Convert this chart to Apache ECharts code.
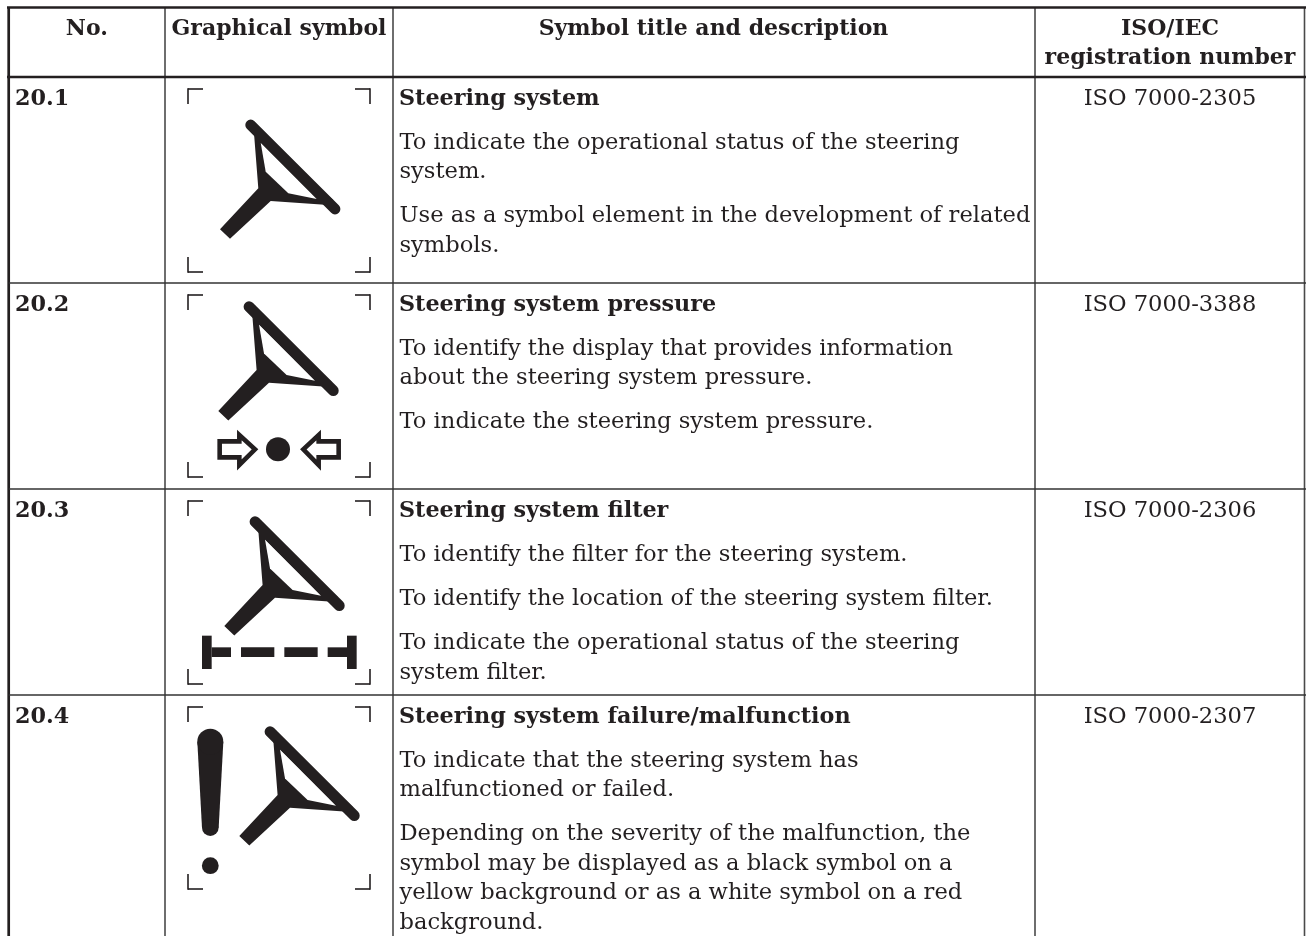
<!DOCTYPE html>
<html><head><meta charset="utf-8">
<style>html,body{margin:0;padding:0;background:#fff}#c{width:1306px;height:936px}</style>
<script src="https://cdn.jsdelivr.net/npm/echarts@6/dist/echarts.min.js"></script>
</head><body><div id="c"></div>
<script>
// ---- table content ----
const headers = ['No.', 'Graphical symbol', 'Symbol title and description', ['ISO/IEC', 'registration number']];
const numbers = ['20.1', '20.2', '20.3', '20.4'];
const titles = ['Steering system', 'Steering system pressure', 'Steering system filter', 'Steering system failure/malfunction'];
const descriptions = [
  [['To indicate the operational status of the steering', 'system.'],
   ['Use as a symbol element in the development of related', 'symbols.']],
  [['To identify the display that provides information', 'about the steering system pressure.'],
   ['To indicate the steering system pressure.']],
  [['To identify the filter for the steering system.'],
   ['To identify the location of the steering system filter.'],
   ['To indicate the operational status of the steering', 'system filter.']],
  [['To indicate that the steering system has', 'malfunctioned or failed.'],
   ['Depending on the severity of the malfunction, the', 'symbol may be displayed as a black symbol on a', 'yellow background or as a white symbol on a red', 'background.']]
];
const registrations = ['ISO 7000-2305', 'ISO 7000-3388', 'ISO 7000-2306', 'ISO 7000-2307'];

// ---- table layout ----
const columnEdges = [8.7, 165, 393, 1035, 1304.5];
const rowEdges = [7.5, 77, 283, 489, 695, 936];
const INK = '#231f20';
const SERIF = '"DejaVu Serif",serif';
const BODY = 22.6, BOLD = 22.3, HEAD = 22;

// glyph outlines, local units
const cropBoxes = [[188, 89, 370, 272], [188, 295, 370, 477], [188, 501, 370, 684], [188, 707, 370, 889]];
const wheelOrigins = [[250.7, 125], [249, 306.7], [255, 521.7], [270, 731.7]];
const wheelBody = [[3.3, 8.3], [7.6, 63.3], [-30.7, 104.3], [-20.7, 113.7], [20, 76], [77.6, 80], [82.6, 75]];
const wheelHole = [[10, 17.7], [15, 46.7], [37.6, 68.3], [66, 74]];
const wheelRim = [[0, 0], [84.3, 84]];

function build(params, api) {
  const P = (x, y) => api.coord([x, y]);
  const kids = [];
  const line = (x1, y1, x2, y2, w, c, cap) => {
    const a = P(x1, y1), b = P(x2, y2);
    kids.push({type: 'line', shape: {x1: a[0], y1: a[1], x2: b[0], y2: b[1]},
      style: {stroke: c || INK, lineWidth: w, lineCap: cap || 'butt', fill: null}});
  };
  const poly = (pts, ox, oy, fill, stroke, w) => {
    kids.push({type: 'polygon', shape: {points: pts.map(p => P(p[0] + ox, p[1] + oy))},
      style: {fill: fill, stroke: stroke || null, lineWidth: w || 0, lineJoin: 'miter', miterLimit: 8}});
  };
  const disc = (x, y, r) => {
    const c = P(x, y);
    kids.push({type: 'circle', shape: {cx: c[0], cy: c[1], r: r}, style: {fill: INK}});
  };
  const text = (s, x, y, size, bold, align) => {
    const c = P(x, y);
    kids.push({type: 'text', x: c[0], y: c[1], style: {text: s, fill: INK,
      font: (bold ? 'bold ' : '') + size + 'px ' + SERIF,
      textAlign: align || 'left', textVerticalAlign: 'middle'}});
  };

  // rules
  const [x0, x1, x2, x3, x4] = columnEdges;
  [x1, x2, x3, x4].forEach(x => line(x, rowEdges[0], x, rowEdges[5], 1.6, '#4a4a4a'));
  line(x0, rowEdges[0], x0, rowEdges[5], 2.7);
  line(7, rowEdges[0], 1306, rowEdges[0], 2.4);
  line(7, rowEdges[1], 1306, rowEdges[1], 2.4);
  [2, 3, 4].forEach(i => line(x0, rowEdges[i], 1306, rowEdges[i], 1.4, '#333'));

  // header
  text(headers[0], (x0 + x1) / 2, 29.5, HEAD, true, 'center');
  text(headers[1], (x1 + x2) / 2, 29.5, HEAD, true, 'center');
  text(headers[2], 713.5, 29.5, HEAD, true, 'center');
  text(headers[3][0], 1170, 29.5, HEAD, true, 'center');
  text(headers[3][1], 1170, 58.5, HEAD, true, 'center');

  // body rows
  numbers.forEach((n, i) => {
    const top = rowEdges[i + 1];
    const ty = top + 22;
    text(n, 15, ty, BOLD, true);
    text(titles[i], 399, ty, BOLD, true);
    text(registrations[i], 1170, ty, BODY, false, 'center');
    let y = top + 21.5;
    descriptions[i].forEach(par => {
      y += 44.3;
      par.forEach((l, k) => { if (k) y += 29.5; text(l, 399.5, y, BODY, false); });
    });
    // crop marks
    const [l, t, r, b] = cropBoxes[i], arm = 15, w = 1.6;
    line(l, t, l + arm, t, w); line(l, t - .8, l, t + arm, w);
    line(r - arm, t, r, t, w); line(r, t - .8, r, t + arm, w);
    line(l, b, l + arm, b, w); line(l, b + .8, l, b - arm, w);
    line(r - arm, b, r, b, w); line(r, b + .8, r, b - arm, w);
    // steering glyph
    const [ox, oy] = wheelOrigins[i];
    poly(wheelBody, ox, oy, INK);
    poly(wheelHole, ox, oy, '#fff');
    line(ox, oy, ox + wheelRim[1][0], oy + wheelRim[1][1], 10.8, INK, 'round');
  });

  // row 2 arrows and dot
  const z2 = p => [p[0] / 3 + 160, p[1] / 3 + 285];
  const arrowL = [[179, 469], [238, 469], [238, 450], [285, 493], [238, 540], [238, 517], [179, 517]];
  const arrowR = [[536, 469], [476, 469], [476, 450], [430, 493], [476, 540], [476, 517], [536, 517]];
  poly(arrowL.map(z2), 0, 0, '#fff', INK, 4.6);
  poly(arrowR.map(z2), 0, 0, '#fff', INK, 4.6);
  disc(278, 449.3, 12);

  // row 3 filter
  const z3 = (a, b, c, d) => [[a, b], [c, b], [c, d], [a, d]].map(p => [p[0] / 3 + 160, p[1] / 3 + 490]);
  [[126, 437, 155, 537], [155, 472, 213, 501], [243, 472, 343, 501], [373, 472, 473, 501], [503, 472, 561, 501], [561, 437, 590, 537]]
    .forEach(q => poly(z3(q[0], q[1], q[2], q[3]), 0, 0, INK));

  // row 4 exclamation
  const z4 = p => [p[0] / 3 + 160, p[1] / 3 + 695];
  poly([[112, 140], [190, 140], [176, 398], [126, 398]].map(z4), 0, 0, INK);
  disc(210.3, 741.7, 13);
  disc(210.3, 827.7, 8.3);
  disc(210.3, 865.7, 8.4);

  return {type: 'group', children: kids};
}

const chart = echarts.init(document.getElementById('c'), null, {renderer: 'canvas'});
chart.setOption({
  animation: false,
  backgroundColor: '#fff',
  grid: {left: 0, right: 0, top: 0, bottom: 0},
  xAxis: {type: 'value', min: 0, max: 1306, show: false},
  yAxis: {type: 'value', min: 0, max: 936, inverse: true, show: false},
  series: [{type: 'custom', coordinateSystem: 'cartesian2d', silent: true, clip: false,
    data: [[0, 0]], renderItem: build}]
});
</script></body></html>
